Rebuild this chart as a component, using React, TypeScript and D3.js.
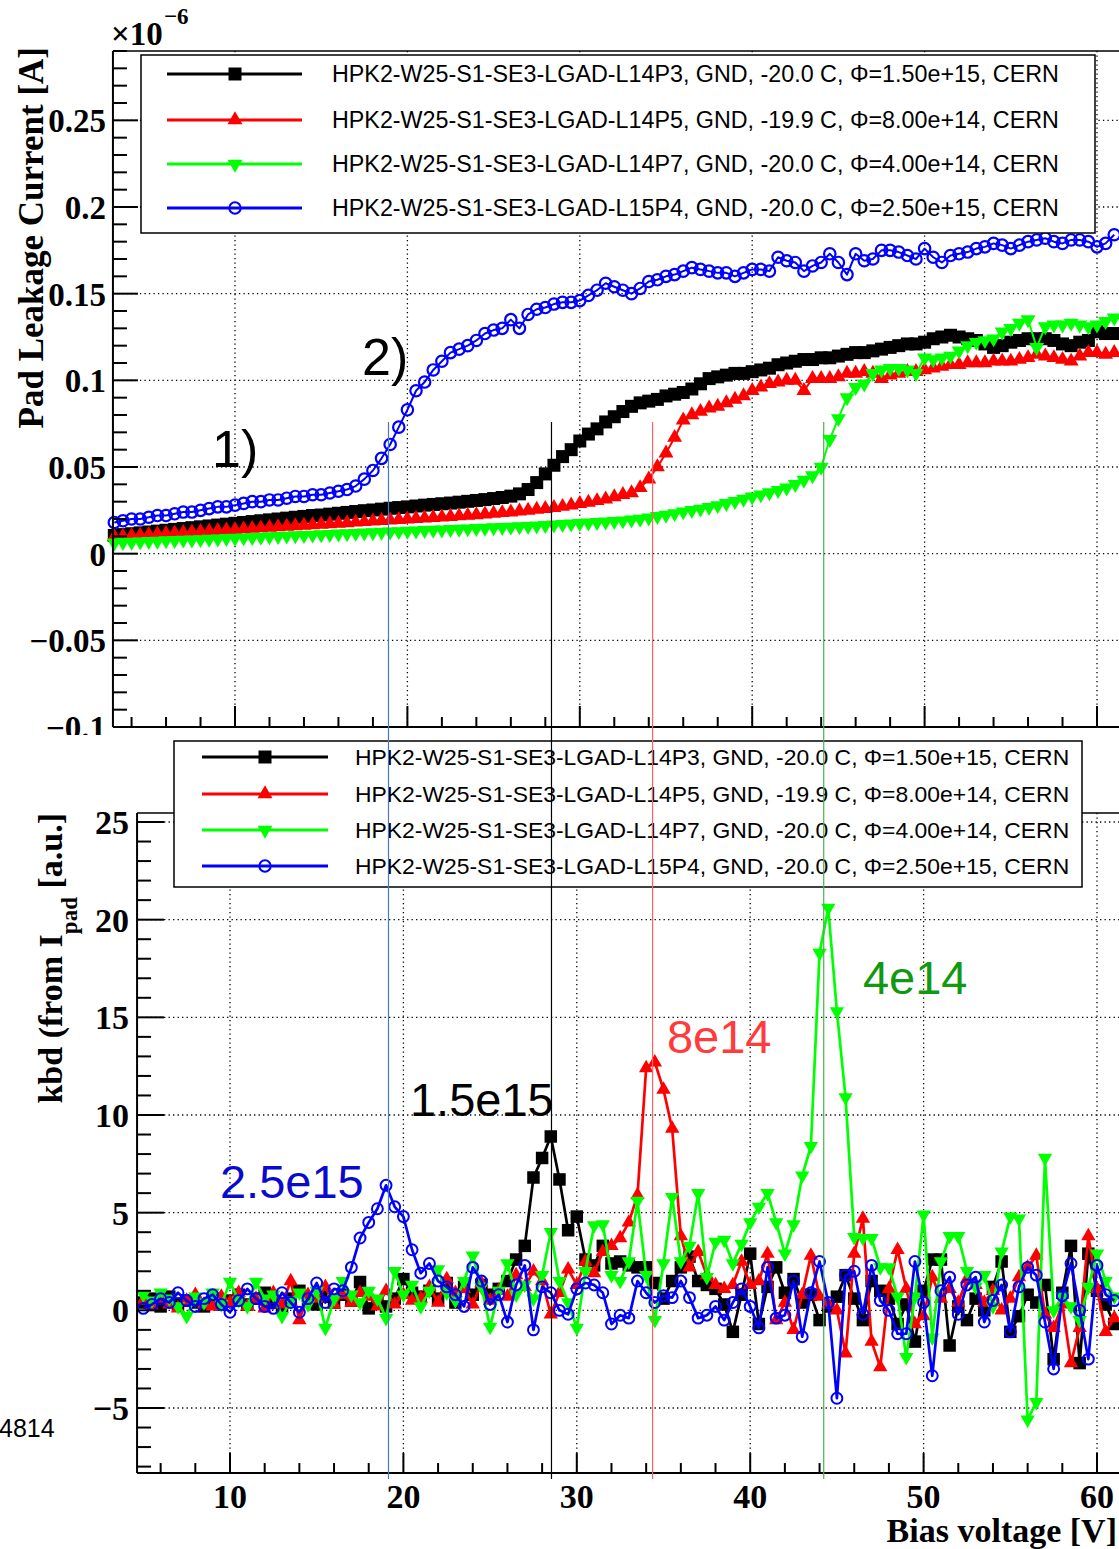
import React from "react";
import * as d3 from "d3";

const W = 1119;
const H = 1549;

// ---------- DATA ----------
// Top panel: pad leakage current (x1e-6 A), bias voltage starts at 3.0 V, step 0.5 V
const TOP_V_START = 3.0;
const BOT_V_START = 5.0;
const V_STEP = 0.5;

const topBlack = [
  0.0105, 0.011, 0.0115, 0.012, 0.0125, 0.013, 0.0135, 0.014, 0.0145, 0.015,
  0.0155, 0.016, 0.0165, 0.017, 0.0175, 0.018, 0.0185, 0.019, 0.0195, 0.02,
  0.0205, 0.021, 0.0215, 0.022, 0.0223, 0.0228, 0.0233, 0.0238, 0.0243, 0.0248,
  0.0252, 0.0257, 0.0262, 0.0266, 0.027, 0.0275, 0.028, 0.0284, 0.0288, 0.0292,
  0.0297, 0.0302, 0.0307, 0.0312, 0.0318, 0.0324, 0.0332, 0.0345, 0.037, 0.041,
  0.046, 0.051, 0.056, 0.06, 0.065, 0.069, 0.072, 0.076, 0.079, 0.082,
  0.085, 0.087, 0.088, 0.089, 0.091, 0.092, 0.093, 0.095, 0.098, 0.101,
  0.102, 0.103, 0.104, 0.104, 0.105, 0.106, 0.107, 0.109, 0.11, 0.111,
  0.112, 0.112, 0.113, 0.113, 0.114, 0.115, 0.116, 0.116, 0.117, 0.118,
  0.119, 0.12, 0.121, 0.121, 0.122, 0.124, 0.125, 0.126, 0.125, 0.124,
  0.123, 0.121, 0.119, 0.12, 0.122, 0.123, 0.124, 0.124, 0.124, 0.123,
  0.121, 0.12, 0.122, 0.123, 0.128, 0.127, 0.127,
];

const topRed = [
  0.0097, 0.01, 0.0103, 0.0106, 0.0109, 0.0112, 0.0115, 0.0118, 0.0121, 0.0124,
  0.0127, 0.013, 0.0133, 0.0136, 0.0139, 0.0142, 0.0145, 0.0148, 0.0151, 0.0154,
  0.0157, 0.016, 0.0163, 0.0166, 0.0169, 0.0172, 0.0175, 0.0178, 0.0181, 0.0184,
  0.0187, 0.019, 0.0193, 0.0196, 0.0199, 0.0202, 0.0205, 0.0208, 0.0211, 0.0214,
  0.0217, 0.022, 0.0224, 0.0228, 0.0232, 0.0236, 0.024, 0.0245, 0.025, 0.0255,
  0.026, 0.0266, 0.0272, 0.028, 0.0288, 0.0296, 0.0305, 0.0315, 0.0327, 0.034,
  0.035, 0.038, 0.043, 0.05, 0.058, 0.067, 0.077, 0.08, 0.082, 0.084,
  0.085, 0.087, 0.089, 0.091, 0.094, 0.096, 0.098, 0.099, 0.1, 0.1,
  0.094, 0.101, 0.101, 0.101, 0.102, 0.104, 0.104, 0.105, 0.104, 0.101,
  0.103, 0.104, 0.105, 0.105, 0.106, 0.107, 0.108, 0.109, 0.109, 0.11,
  0.11, 0.11, 0.111, 0.111, 0.111, 0.112, 0.113, 0.115, 0.114, 0.113,
  0.112, 0.111, 0.114, 0.116, 0.116, 0.115, 0.116,
];

const topGreen = [
  0.0063, 0.0065, 0.0067, 0.0069, 0.0071, 0.0073, 0.0075, 0.0077, 0.0079, 0.008,
  0.0082, 0.0084, 0.0086, 0.0088, 0.009, 0.0092, 0.0094, 0.0096, 0.0098, 0.01,
  0.0102, 0.0104, 0.0106, 0.0108, 0.011, 0.0112, 0.0114, 0.0116, 0.0118, 0.012,
  0.0122, 0.0124, 0.0126, 0.0128, 0.013, 0.0132, 0.0134, 0.0136, 0.0138, 0.014,
  0.0142, 0.0144, 0.0146, 0.0148, 0.015, 0.0152, 0.0154, 0.0156, 0.0158, 0.016,
  0.0163, 0.0166, 0.0169, 0.0172, 0.0175, 0.0178, 0.0181, 0.0184, 0.0187, 0.019,
  0.0195, 0.02, 0.0207, 0.0215, 0.0223, 0.0232, 0.0242, 0.025, 0.0258, 0.0268,
  0.0278, 0.029, 0.0302, 0.0315, 0.0328, 0.034, 0.0352, 0.0365, 0.038, 0.04,
  0.0425, 0.045, 0.05, 0.066, 0.078, 0.09, 0.096, 0.098, 0.104, 0.106,
  0.107, 0.107, 0.106, 0.104, 0.113, 0.112, 0.113, 0.114, 0.117, 0.12,
  0.122, 0.123, 0.124, 0.128, 0.13, 0.133, 0.135, 0.119, 0.131, 0.132,
  0.132, 0.133, 0.132, 0.131, 0.132, 0.134, 0.136,
];

const topBlue = [
  0.018, 0.019, 0.02, 0.02, 0.021, 0.022, 0.022, 0.023, 0.024, 0.024,
  0.025, 0.026, 0.027, 0.027, 0.028, 0.029, 0.03, 0.03, 0.031, 0.031,
  0.032, 0.033, 0.033, 0.034, 0.034, 0.035, 0.036, 0.037, 0.039, 0.043,
  0.048, 0.055, 0.063, 0.073, 0.083, 0.094, 0.099, 0.106, 0.111, 0.116,
  0.118, 0.12, 0.123, 0.127, 0.129, 0.13, 0.135, 0.13, 0.138, 0.141,
  0.142, 0.144, 0.145, 0.145, 0.146, 0.149, 0.152, 0.156, 0.154, 0.152,
  0.15, 0.153, 0.157, 0.158, 0.16, 0.161, 0.163, 0.165, 0.164, 0.163,
  0.162, 0.162, 0.16, 0.162, 0.164, 0.164, 0.163, 0.171, 0.169, 0.168,
  0.163, 0.166, 0.168, 0.173, 0.168, 0.161, 0.173, 0.169, 0.17, 0.175,
  0.175, 0.174, 0.172, 0.17, 0.176, 0.171, 0.168, 0.172, 0.173, 0.174,
  0.176, 0.177, 0.179, 0.178, 0.176, 0.178, 0.18, 0.181, 0.182, 0.18,
  0.179, 0.181, 0.181, 0.18, 0.177, 0.179, 0.184,
];

// Bottom panel: kbd (a.u.), bias voltage starts at 5.0 V, step 0.5 V
const kbdBlack = [
  0.4, 0.6, 0.2, 0.7, 0.3, 0.5, 0.4, 0.2, 0.6, 0.3,
  0.5, 0.8, 0.3, 0.6, 0.9, 0.4, 0.2, 0.6, 1.0, 0.5,
  0.3, 0.7, 0.4, 0.8, 0.5, 1.45, 0.1, 0.4, 0.2, 0.6,
  1.6, 0.9, 0.7, 1.0, 0.6, 1.4, 0.4, 1.2, 0.8, 1.3,
  0.8, 1.1, 1.5, 2.6, 3.3, 6.8, 7.8, 8.9, 6.7, 4.1,
  4.8, 2.6, 2.3, 3.3, 2.4, 2.5, 2.3, 2.2, 2.2, 1.4,
  0.6, 1.5, 2.2, 2.75, 1.5, 1.3, 1.1, 0.3, -1.1, 0.8,
  2.9, -0.7, 1.2, 2.2, 0.9, 1.6, 0.4, 0.8, -0.5, 0.2,
  0.7, 1.8, 0.6, -0.5, 1.5, 1.0, 0.6, -0.7, 0.3, -1.6,
  1.0, 2.6, 2.6, -1.8, 0.2, -0.5, 0.6, 0.0, 1.2, 2.5,
  -1.1, -0.3, 0.8, 0.4, 1.3, -2.5, 0.9, 3.3, -2.7, 2.9,
  1.0, 0.3, -0.7,
];

const kbdRed = [
  0.5, 0.2, 0.6, 0.3, 0.1, 0.5, 0.8, 0.3, 0.2, 0.7,
  0.4, 0.9, 0.2, 0.6, 0.1, 0.9, 0.3, 1.5, -0.5, 0.8,
  0.6, 1.2, 0.3, 0.8, 0.4, 0.9, 0.7, 0.2, 1.0, 0.3,
  0.8, 0.5, 0.6, 1.2, 0.4, 1.6, 0.9, 1.1, 0.3, 1.4,
  0.5, 1.0, 0.7, 1.8, 1.2, 2.0, 1.5, -0.2, 0.9, 2.1,
  1.3, 2.5, 1.9, 3.0, 3.3, 3.7, 4.5, 5.9, 12.4, 12.7,
  11.3, 9.3, 3.8, 2.2, 3.0, 1.8, 1.3, 1.1, 1.3, 2.5,
  1.3, 1.5, 2.9, -0.5, 0.4, -1.0, 0.8, 2.8, 0.7, 0.3,
  0.0, -2.2, 2.9, 4.7, -1.6, -2.9, 1.1, 3.1, 1.1, -0.7,
  -0.3, 1.7, 0.6, 1.1, 0.4, 1.6, 1.3, 0.4, 1.0, 0.0,
  0.6, 1.7, 2.2, 2.8, -0.2, -0.9, 0.3, -2.7, -0.9, 3.8,
  1.1, -1.1, -0.4,
];

const kbdGreen = [
  0.8, 0.5, 0.9, 0.6, 0.2, -0.3, 0.7, 0.4, 0.9, 0.3,
  1.45, 0.5, 0.2, 1.45, 0.6, 0.8, -0.3, 0.5, 0.9, 0.3,
  1.0, -0.9, 0.6, 1.5, 0.8, 0.4, 1.0, 0.6, -0.4, 2.0,
  0.8, 1.3, 0.2, 1.0, 2.1, 0.9, 0.5, 1.5, 2.8, 1.2,
  -0.85, 1.0, 2.4, 0.8, 1.3, 0.6, 1.8, 4.0, 1.5, 0.4,
  -0.9, 2.0, 4.35, 4.4, 1.8, 1.5, 2.5, 5.6, 1.8, -0.5,
  2.4, 5.8, 2.5, 3.3, 6.0, 1.7, 3.5, 3.6, 2.4, 3.4,
  4.5, 5.3, 6.0, 4.5, 2.9, 4.4, 6.9, 8.4, 18.3, 20.6,
  15.3, 10.9, 3.75, 3.7, 3.7, 2.2, 2.2, 0.7, -2.4, 0.7,
  4.9, -1.4, 2.5, 3.8, 3.8, 2.0, 1.2, 1.8, 0.2, 3.0,
  4.8, 4.7, -5.6, -4.7, 7.8, 0.0, 0.7, 0.2, -0.5, 1.2,
  2.9, 1.5, 0.7,
];

const kbdBlue = [
  0.1, 0.3, 0.6, 0.4, 0.9, 0.5, 0.2, 0.6, 0.8, 0.3,
  -0.1, 0.5, 1.1, 0.6, 0.2, 0.1, 0.9, 0.4, -0.1, 0.6,
  1.4, 0.4, 1.1, 1.0, 2.2, 3.7, 4.5, 5.2, 6.4, 5.3,
  4.8, 3.1, 1.9, 2.4, 1.5, 1.2, 0.8, 0.2, 2.2, 1.5,
  0.3, 0.8, -0.6, 1.3, 2.3, -1.0, 1.2, 0.9, 0.0, -0.2,
  1.1, 1.4, 1.3, 0.9, -0.7, -0.25, -0.4, 1.5, 0.9, 0.4,
  0.75, 0.65, 1.5, 0.65, -0.4, -0.25, 0.2, -0.5, 0.4, 1.1,
  0.2, -0.9, 2.2, -0.4, -0.25, 1.5, -1.35, 0.9, 2.5, 0.4,
  -4.5, 1.8, 2.0, -0.2, 2.3, 0.5, 0.0, -1.2, -1.2, 2.5,
  0.4, -3.35, 1.0, 1.7, -0.2, 1.3, 1.7, -0.6, 0.5, 1.3,
  -1.1, 1.2, 2.2, 1.8, -0.6, -3.0, 0.75, 2.4, 0.0, -2.5,
  2.3, 0.8, 0.5,
];

const legendLabels = [
  "HPK2-W25-S1-SE3-LGAD-L14P3, GND, -20.0 C, \u03A6=1.50e+15, CERN",
  "HPK2-W25-S1-SE3-LGAD-L14P5, GND, -19.9 C, \u03A6=8.00e+14, CERN",
  "HPK2-W25-S1-SE3-LGAD-L14P7, GND, -20.0 C, \u03A6=4.00e+14, CERN",
  "HPK2-W25-S1-SE3-LGAD-L15P4, GND, -20.0 C, \u03A6=2.50e+15, CERN",
];

const xMajorTicks = [10, 20, 30, 40, 50, 60];
const topYMajorTicks = [-0.1, -0.05, 0, 0.05, 0.1, 0.15, 0.2, 0.25];
const botYMajorTicks = [-5, 0, 5, 10, 15, 20, 25];

// breakdown voltages marked by thin vertical lines
const breakdownV = [19.14, 28.54, 34.37, 44.24];

// peak annotations (bias voltage, kbd) and region annotations (bias voltage, current)
const peakLabels = ["2.5e15", "1.5e15", "8e14", "4e14"];
const peakLabelV = [9.42, 20.38, 35.2, 46.5];
const peakLabelK = [5.75, 9.95, 13.17, 16.2];
const regionLabels = ["1)", "2)"];
const regionV = [8.67, 17.37];
const regionI = [0.05, 0.103];

// ---------- STYLE ----------
const SERIF = "'Liberation Serif', 'Times New Roman', serif";
const SANS = "'Liberation Sans', Arial, sans-serif";
const seriesColors = ["#000000", "#ff0000", "#00ff00", "#0000ff"];
const seriesMarkers = ["square", "up", "down", "circle"];
const breakdownColors = ["#4a78c8", "#000000", "#ff6060", "#4cb04c"];
const peakColors = ["#0a0acc", "#000000", "#ff3b3b", "#119911"];

// ---------- SCALES ----------
const xTop = d3.scaleLinear().domain([10, 60]).range([235, 1097]);
const yTop = d3.scaleLinear().domain([-0.1, 0.29]).range([727, 51]);
const xBot = d3.scaleLinear().domain([10, 60]).range([230, 1097]);
const yBot = d3.scaleLinear().domain([-5, 25]).range([1408, 822]);

const topFrame = { x0: xTop(2.92), x1: xTop(62.5), y0: yTop(0.29), y1: yTop(-0.1) };
const botFrame = { x0: xBot(4.64), x1: xBot(62.5), y0: yBot(25.46), y1: yBot(-8.33) };

function Marker({ type, x, y, color, size, sw = 1.8 }: any) {
  if (type === "circle") {
    return <circle cx={x} cy={y} r={size / 2 - 0.8} fill="none" stroke={color} strokeWidth={sw} />;
  }
  if (type === "square") {
    const p = d3.symbol(d3.symbolSquare, size * size)();
    return <path d={p || ""} transform={`translate(${x},${y})`} fill={color} />;
  }
  const side = size * 1.15;
  const p = d3.symbol(d3.symbolTriangle, (Math.sqrt(3) / 4) * side * side)();
  return (
    <path
      d={p || ""}
      transform={`translate(${x},${y}) rotate(${type === "down" ? 180 : 0})`}
      fill={color}
    />
  );
}

function Series({ values, v0, xs, ys, color, marker, size, lw, sw }: any) {
  const pts = values.map((v: number, i: number) => [xs(v0 + i * V_STEP), ys(v)]);
  const line = d3.line()(pts as [number, number][]);
  return (
    <g>
      <path d={line || ""} fill="none" stroke={color} strokeWidth={lw} strokeLinejoin="round" />
      {pts.map((p: number[], i: number) => (
        <Marker key={i} type={marker} x={p[0]} y={p[1]} color={color} size={size} sw={sw} />
      ))}
    </g>
  );
}

const fmtTop = (v: number) => {
  const s = String(+v.toFixed(2));
  return s.replace("-", "\u2212");
};
const fmtBot = (v: number) => String(v).replace("-", "\u2212");

export default function App() {
  const topSeries = [topBlack, topRed, topGreen, topBlue];
  const botSeries = [kbdBlack, kbdRed, kbdGreen, kbdBlue];

  const topXMinor = d3.range(4, 63, 2).filter((v) => v % 10 !== 0);
  const topYMinor = d3.range(-10, 30, 1).map((v) => v / 100).filter((v) => Math.round(v * 100) % 5 !== 0);
  const botXMinor = d3.range(6, 63, 2).filter((v) => v % 10 !== 0);
  const botYMinor = d3.range(-8, 26, 1).filter((v) => v % 5 !== 0);

  const dotted = { stroke: "#000", strokeWidth: 1.3, strokeDasharray: "1.3,3.2" };

  const topLegendY = [74, 120, 164, 208];
  const botLegendY = [757, 794, 830, 866];

  return (
    <div style={{ position: "absolute", left: 0, top: 0, width: W, height: H, overflow: "hidden" }}>
      <svg width={W} height={H} style={{ display: "block", background: "#fff" }}>
        <rect x={0} y={0} width={W} height={H} fill="#fff" />

        {/* ================= TOP PANEL ================= */}
        {xMajorTicks.map((v) => (
          <line key={"tgx" + v} x1={xTop(v)} x2={xTop(v)} y1={topFrame.y0} y2={topFrame.y1} {...dotted} />
        ))}
        {topYMajorTicks.filter((v) => v > -0.1).map((v) => (
          <line key={"tgy" + v} x1={topFrame.x0} x2={topFrame.x1} y1={yTop(v)} y2={yTop(v)} {...dotted} />
        ))}

        {topSeries.map((vals, k) => (
          <Series key={"ts" + k} values={vals} v0={TOP_V_START} xs={xTop} ys={yTop}
            color={seriesColors[k]} marker={seriesMarkers[k]} size={13} lw={2} sw={2.2} />
        ))}

        {/* frame */}
        <line x1={topFrame.x0} x2={topFrame.x0} y1={topFrame.y0} y2={topFrame.y1} stroke="#000" strokeWidth={2} />
        <line x1={topFrame.x0} x2={topFrame.x1} y1={topFrame.y1} y2={topFrame.y1} stroke="#000" strokeWidth={2} />
        <line x1={topFrame.x0} x2={topFrame.x1} y1={topFrame.y0} y2={topFrame.y0} stroke="#000" strokeWidth={1.5} />

        {/* y ticks */}
        {topYMajorTicks.map((v) => (
          <line key={"tyt" + v} x1={topFrame.x0} x2={topFrame.x0 + 25} y1={yTop(v)} y2={yTop(v)} stroke="#000" strokeWidth={2} />
        ))}
        {topYMinor.map((v) => (
          <line key={"tym" + v} x1={topFrame.x0} x2={topFrame.x0 + 14} y1={yTop(v)} y2={yTop(v)} stroke="#000" strokeWidth={2} />
        ))}
        {topYMajorTicks.map((v) => (
          <text key={"tyl" + v} x={106} y={yTop(v) + 12} textAnchor="end" fontFamily={SERIF} fontWeight="bold" fontSize={33}>
            {fmtTop(v)}
          </text>
        ))}
        {/* x ticks */}
        {xMajorTicks.map((v) => (
          <line key={"txt" + v} x1={xTop(v)} x2={xTop(v)} y1={topFrame.y1} y2={topFrame.y1 - 21} stroke="#000" strokeWidth={2} />
        ))}
        {topXMinor.map((v) => (
          <line key={"txm" + v} x1={xTop(v)} x2={xTop(v)} y1={topFrame.y1} y2={topFrame.y1 - 10} stroke="#000" strokeWidth={2} />
        ))}

        {/* exponent */}
        <text x={111} y={45} fontFamily={SERIF} fontWeight="bold" fontSize={33}>{"\u00D710"}</text>
        <text x={164} y={24} fontFamily={SERIF} fontWeight="bold" fontSize={23}>{"\u22126"}</text>

        {/* y title */}
        <text transform="translate(43,47) rotate(-90)" textAnchor="end" fontFamily={SERIF} fontWeight="bold" fontSize={35}>
          Pad Leakage Current [A]
        </text>

        {/* legend */}
        <rect x={141} y={55} width={954} height={178} fill="#fff" stroke="#000" strokeWidth={1.5} />
        {legendLabels.map((t, k) => (
          <g key={"tl" + k}>
            <line x1={167} x2={302} y1={topLegendY[k]} y2={topLegendY[k]} stroke={seriesColors[k]} strokeWidth={3} />
            <Marker type={seriesMarkers[k]} x={235} y={topLegendY[k]} color={seriesColors[k]} size={13} sw={2} />
            <text x={332} y={topLegendY[k] + 8} fontFamily={SANS} fontSize={23.3} fill="#000">{t}</text>
          </g>
        ))}

        {/* region annotations */}
        {regionLabels.map((t, k) => (
          <text key={"rl" + k} x={xTop(regionV[k])} y={yTop(regionI[k])} fontFamily={SANS} fontSize={52} fill="#000">{t}</text>
        ))}

        {/* ================= BOTTOM PANEL ================= */}
        <rect x={0} y={735} width={W} height={H - 735} fill="#fff" />

        {xMajorTicks.map((v) => (
          <line key={"bgx" + v} x1={xBot(v)} x2={xBot(v)} y1={botFrame.y0} y2={botFrame.y1} {...dotted} />
        ))}
        {botYMajorTicks.map((v) => (
          <line key={"bgy" + v} x1={botFrame.x0} x2={botFrame.x1} y1={yBot(v)} y2={yBot(v)} {...dotted} />
        ))}

        {botSeries.map((vals, k) => (
          <Series key={"bs" + k} values={vals} v0={BOT_V_START} xs={xBot} ys={yBot}
            color={seriesColors[k]} marker={seriesMarkers[k]} size={12.5} lw={2.7} sw={2} />
        ))}

        <line x1={botFrame.x0} x2={botFrame.x0} y1={botFrame.y0} y2={botFrame.y1} stroke="#000" strokeWidth={2} />
        <line x1={botFrame.x0} x2={botFrame.x1} y1={botFrame.y1} y2={botFrame.y1} stroke="#000" strokeWidth={2} />
        <line x1={botFrame.x0} x2={botFrame.x1} y1={botFrame.y0} y2={botFrame.y0} stroke="#000" strokeWidth={1.5} />

        {botYMajorTicks.map((v) => (
          <line key={"byt" + v} x1={botFrame.x0} x2={botFrame.x0 + 27} y1={yBot(v)} y2={yBot(v)} stroke="#000" strokeWidth={2} />
        ))}
        {botYMinor.map((v) => (
          <line key={"bym" + v} x1={botFrame.x0} x2={botFrame.x0 + 14} y1={yBot(v)} y2={yBot(v)} stroke="#000" strokeWidth={2} />
        ))}
        {botYMajorTicks.map((v) => (
          <text key={"byl" + v} x={129} y={yBot(v) + 12} textAnchor="end" fontFamily={SERIF} fontWeight="bold" fontSize={34}>
            {fmtBot(v)}
          </text>
        ))}
        {xMajorTicks.map((v) => (
          <line key={"bxt" + v} x1={xBot(v)} x2={xBot(v)} y1={botFrame.y1} y2={botFrame.y1 - 20} stroke="#000" strokeWidth={2} />
        ))}
        {botXMinor.map((v) => (
          <line key={"bxm" + v} x1={xBot(v)} x2={xBot(v)} y1={botFrame.y1} y2={botFrame.y1 - 10} stroke="#000" strokeWidth={2} />
        ))}
        {xMajorTicks.map((v) => (
          <text key={"bxl" + v} x={xBot(v)} y={1508} textAnchor="middle" fontFamily={SERIF} fontWeight="bold" fontSize={34}>
            {v}
          </text>
        ))}

        <text x={1117} y={1542} textAnchor="end" fontFamily={SERIF} fontWeight="bold" fontSize={34}>Bias voltage [V]</text>

        <text transform="translate(62,813) rotate(-90)" textAnchor="end" fontFamily={SERIF} fontWeight="bold" fontSize={34}>
          kbd (from I<tspan dy={15} fontSize={23}>pad</tspan>
          <tspan dy={-15}> [a.u.]</tspan>
        </text>

        {/* legend */}
        <rect x={174} y={741} width={908} height={146} fill="#fff" stroke="#000" strokeWidth={1.5} />
        {legendLabels.map((t, k) => (
          <g key={"bl" + k}>
            <line x1={202} x2={328} y1={botLegendY[k]} y2={botLegendY[k]} stroke={seriesColors[k]} strokeWidth={3} />
            <Marker type={seriesMarkers[k]} x={265} y={botLegendY[k]} color={seriesColors[k]} size={13} sw={2} />
            <text x={355} y={botLegendY[k] + 8} fontFamily={SANS} fontSize={22.9} fill="#000">{t}</text>
          </g>
        ))}

        {/* peak annotations */}
        {peakLabels.map((t, k) => (
          <text key={"pl" + k} x={xBot(peakLabelV[k])} y={yBot(peakLabelK[k])} fontFamily={SANS} fontSize={47} fill={peakColors[k]}>{t}</text>
        ))}

        <text x={-1} y={1437} fontFamily={SANS} fontSize={25} fill="#000">4814</text>

        {/* breakdown vertical lines spanning both panels */}
        {breakdownV.map((v, k) => (
          <line key={"bd" + k} x1={xBot(v)} x2={xBot(v)} y1={422} y2={botFrame.y1 + 6} stroke={breakdownColors[k]} strokeWidth={1.2} />
        ))}
      </svg>
    </div>
  );
}
